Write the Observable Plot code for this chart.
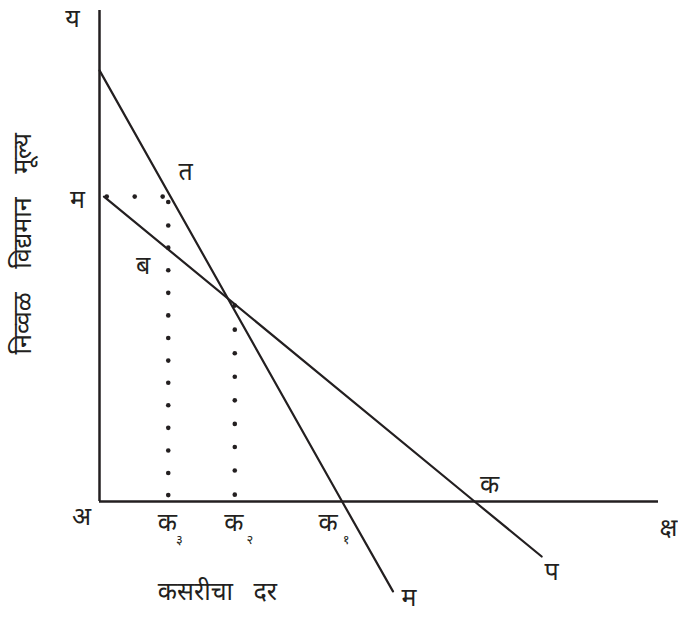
<!DOCTYPE html>
<html>
<head>
<meta charset="utf-8">
<script src="https://cdn.jsdelivr.net/npm/d3@7"></script>
<script src="https://cdn.jsdelivr.net/npm/@observablehq/plot@0.6"></script>
<style>
  html, body { margin: 0; padding: 0; background: #fff; }
  #chart svg { display: block; }
</style>
</head>
<body>
<div id="chart"></div>
<script>
// Axis extents (discount rate on x, NPV on y)
const xAxisMax = 10;
const yAxisMax = 10;

// Project lines (x = discount rate, y = net present value)
const lineTM = [ { x: 0, y: 8.78 }, { x: 4.34, y: 0 }, { x: 5.25, y: -1.83 } ];
const lineMP = [ { x: 0.08, y: 6.21 }, { x: 6.71, y: 0 }, { x: 7.91, y: -1.12 } ];

// Key rates on the x axis
const k3 = 1.23, k2 = 2.42, k1 = 4.34, kCross = 6.71;

// Dotted guide points
const hDotsX = [0.13, 0.63, 1.13];
const hDotsY = 6.21;
const k3DotsY = [6.10, 5.62, 5.17, 4.71, 4.25, 3.79, 3.33, 2.87, 2.42, 1.96, 1.50, 1.04, 0.58, 0.13];
const k2DotsY = [3.99, 3.50, 3.02, 2.54, 2.06, 1.58, 1.11, 0.63, 0.14];

// Text
const yTitle = "निव्वळ विद्यमान मूल्य";
const xTitle = "कसरीचा दर";
const kLetter = "क";
const kSubs = ["३", "२", "१"];

const dots = [
  ...hDotsX.map(x => ({ x, y: hDotsY })),
  ...k3DotsY.map(y => ({ x: k3, y })),
  ...k2DotsY.map(y => ({ x: k2, y }))
];

const font = "'Noto Sans Devanagari', 'Lohit Devanagari', 'Noto Sans', 'DejaVu Sans', sans-serif";
const ink = "#231f20";
const FS = 25;

const bigLabels = [
  { x: 0, y: yAxisMax, t: "य", dx: -27, dy: 8 },
  { x: 0, y: hDotsY, t: "म", dx: -22, dy: 3 },
  { x: 1.54, y: 6.72, t: "त", dx: 0, dy: 0 },
  { x: 0.78, y: 4.8, t: "ब", dx: 0, dy: 0 },
  { x: 0, y: 0, t: "अ", dx: -18, dy: 15 },
  { x: kCross, y: 0, t: "क", dx: 15, dy: -17 },
  { x: xAxisMax, y: 0, t: "क्ष", dx: 10, dy: 26 },
  { x: 7.91, y: -1.12, t: "प", dx: 10, dy: 16 },
  { x: 5.25, y: -1.83, t: "म", dx: 16, dy: 7 }
];
const kLabels = [
  { x: k3, s: kSubs[0], dx: -1, sdx: 12 },
  { x: k2, s: kSubs[1], dx: -1, sdx: 16 },
  { x: k1, s: kSubs[2], dx: -14, sdx: 18 }
];

const labelMarks = bigLabels.map(d =>
  Plot.text([d], { x: "x", y: "y", text: "t", dx: d.dx, dy: d.dy, fontSize: FS, fill: ink })
);
const kMarks = kLabels.flatMap(d => [
  Plot.text([d], { x: "x", y: () => 0, text: () => kLetter, dx: d.dx, dy: 21, fontSize: FS, fill: ink }),
  Plot.text([d], { x: "x", y: () => 0, text: "s", dx: d.dx + d.sdx, dy: 38, fontSize: 13, fill: ink })
]);

const chart = Plot.plot({
  width: 678,
  height: 617,
  marginLeft: 99,
  marginRight: 20,
  marginTop: 10,
  marginBottom: 116,
  x: { domain: [0, xAxisMax], axis: null },
  y: { domain: [0, yAxisMax], axis: null },
  style: { fontFamily: font, background: "#fff", overflow: "visible" },
  marks: [
    Plot.ruleY([0], { x1: 0, x2: xAxisMax, stroke: ink, strokeWidth: 2.5 }),
    Plot.ruleX([0], { y1: 0, y2: yAxisMax, stroke: ink, strokeWidth: 2.5 }),
    Plot.line(lineTM, { x: "x", y: "y", stroke: ink, strokeWidth: 2.2 }),
    Plot.line(lineMP, { x: "x", y: "y", stroke: ink, strokeWidth: 2.2 }),
    Plot.dot(dots, { x: "x", y: "y", r: 2.3, fill: ink, stroke: "none" }),
    ...labelMarks,
    ...kMarks,
    Plot.text([yTitle], { x: () => 0, y: () => 5.25, text: d => d, rotate: -90, dx: -77, fontSize: FS, fill: ink }),
    Plot.text([xTitle], { x: () => 2.11, y: () => 0, text: d => d, dy: 90, fontSize: FS, fill: ink })
  ]
});

d3.select(chart).selectAll("text")
  .filter(function () { return this.textContent === yTitle; })
  .style("word-spacing", "17px");
d3.select(chart).selectAll("text")
  .filter(function () { return this.textContent === xTitle; })
  .style("word-spacing", "14px");

document.getElementById("chart").append(chart);
</script>
</body>
</html>
